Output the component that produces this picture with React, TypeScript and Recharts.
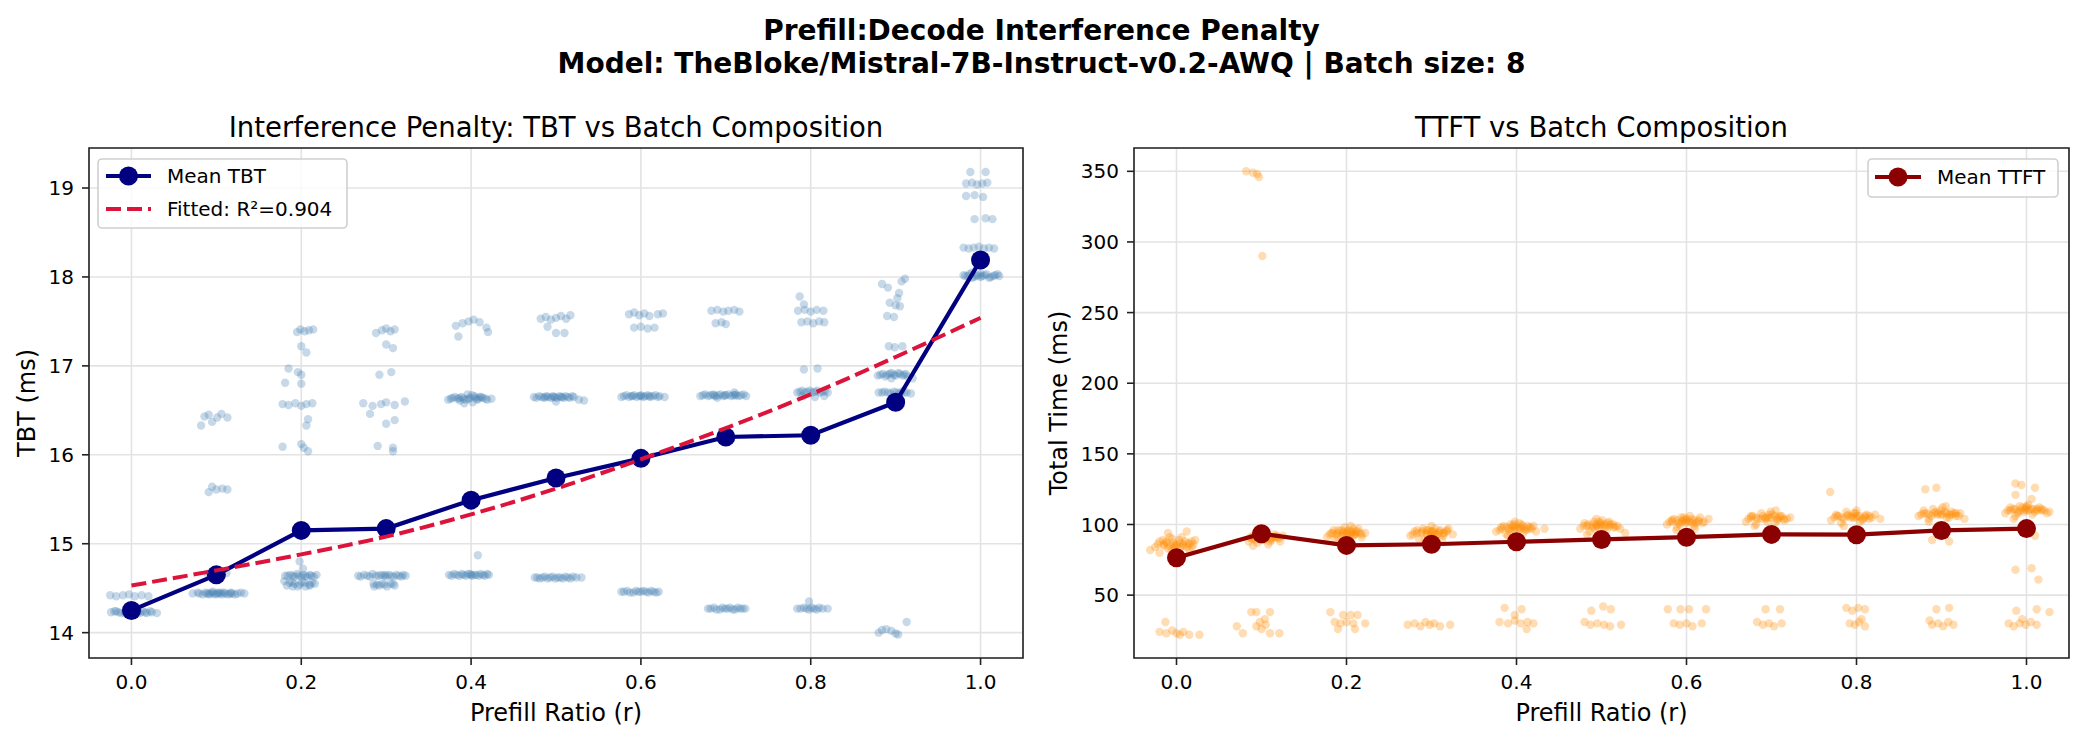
import { ScatterChart, Scatter, XAxis, YAxis, CartesianGrid, ReferenceArea } from "recharts";

// prefill ratio r for the mean / fitted series
const ratios = [0, 0.1, 0.2, 0.3, 0.4, 0.5, 0.6, 0.7, 0.8, 0.9, 1.0];
const meanTbt = [14.25, 14.65, 15.15, 15.17, 15.49, 15.74, 15.96, 16.2, 16.22, 16.59, 18.19];
const fittedTbt = [14.53, 14.7, 14.88, 15.08, 15.33, 15.62, 15.95, 16.3, 16.68, 17.1, 17.54];
const meanTtft = [76.5, 93.5, 85.2, 86.0, 87.8, 89.4, 91.0, 93.0, 92.8, 95.8, 97.1];

const xTicks = [0, 0.2, 0.4, 0.6, 0.8, 1.0];
const tbtTicks = [14, 15, 16, 17, 18, 19];
const ttftTicks = [50, 100, 150, 200, 250, 300, 350];

const X_DOMAIN: [number, number] = [-0.05, 1.05];
const TBT_DOMAIN: [number, number] = [13.715, 19.45];
const TTFT_DOMAIN: [number, number] = [5.5, 366.5];

// jittered per-request TBT samples [r, ms]
const tbtSamples: [number, number][] = [
  // r = 0.0
  [-0.025, 14.42], [-0.018, 14.41], [-0.01, 14.42], [-0.003, 14.43], [0.004, 14.41], [0.012, 14.42], [0.02, 14.41],
  [-0.024, 14.23], [-0.018, 14.24], [-0.012, 14.22], [-0.007, 14.23], [-0.002, 14.24], [0.003, 14.22], [0.008, 14.23],
  [0.013, 14.24], [0.018, 14.22], [0.024, 14.23], [0.03, 14.22], [-0.015, 14.23], [0.0, 14.23], [0.01, 14.22],
  [-0.02, 14.24], [-0.008, 14.22], [0.006, 14.24], [0.016, 14.23], [0.022, 14.24], [-0.004, 14.22],
  // r = 0.1
  [0.082, 16.33], [0.086, 16.43], [0.091, 16.45], [0.095, 16.37], [0.101, 16.42], [0.106, 16.46], [0.113, 16.42],
  [0.091, 15.58], [0.095, 15.64], [0.1, 15.61], [0.107, 15.62], [0.113, 15.61],
  [0.1, 14.69], [0.112, 14.67], [0.09, 14.66],
  [0.072, 14.44], [0.078, 14.45], [0.084, 14.43], [0.089, 14.44], [0.094, 14.45], [0.099, 14.43], [0.104, 14.44],
  [0.109, 14.45], [0.114, 14.43], [0.119, 14.44], [0.125, 14.44], [0.133, 14.44], [0.092, 14.43], [0.102, 14.45],
  [0.08, 14.44], [0.087, 14.45], [0.097, 14.44], [0.107, 14.43], [0.117, 14.45], [0.122, 14.43], [0.129, 14.45],
  [0.096, 14.46], [0.111, 14.44], [0.091, 14.44], [0.101, 14.44], [0.106, 14.45], [0.116, 14.44],
  // r = 0.2
  [0.195, 17.38], [0.199, 17.41], [0.204, 17.39], [0.209, 17.4], [0.214, 17.41],
  [0.2, 17.22], [0.206, 17.15],
  [0.185, 16.97], [0.196, 16.93], [0.2, 16.9], [0.181, 16.81], [0.2, 16.8],
  [0.178, 16.57], [0.185, 16.56], [0.193, 16.58], [0.2, 16.55], [0.206, 16.57], [0.213, 16.58],
  [0.208, 16.4], [0.206, 16.33],
  [0.178, 16.09], [0.2, 16.12], [0.203, 16.08], [0.208, 16.04],
  [0.198, 14.8], [0.202, 14.72],
  [0.181, 14.64], [0.187, 14.65], [0.192, 14.63], [0.197, 14.64], [0.202, 14.65], [0.207, 14.63], [0.212, 14.64], [0.218, 14.65],
  [0.184, 14.64], [0.195, 14.66], [0.205, 14.64], [0.215, 14.63], [0.19, 14.64], [0.2, 14.63], [0.21, 14.65],
  [0.18, 14.58], [0.186, 14.56], [0.192, 14.55], [0.198, 14.54], [0.204, 14.56], [0.21, 14.54], [0.216, 14.55], [0.19, 14.52], [0.205, 14.52],
  [0.189, 14.57], [0.201, 14.57], [0.213, 14.56], [0.183, 14.53], [0.196, 14.52], [0.21, 14.53],
  // r = 0.3
  [0.288, 17.37], [0.295, 17.4], [0.3, 17.42], [0.305, 17.39], [0.31, 17.41],
  [0.3, 17.24], [0.308, 17.2],
  [0.292, 16.9], [0.306, 16.93],
  [0.273, 16.58], [0.284, 16.55], [0.294, 16.57], [0.3, 16.59], [0.31, 16.56], [0.322, 16.6],
  [0.281, 16.46], [0.3, 16.35], [0.31, 16.39],
  [0.29, 16.1], [0.308, 16.08], [0.308, 16.04],
  [0.267, 14.64], [0.274, 14.65], [0.281, 14.63], [0.288, 14.64], [0.294, 14.65], [0.3, 14.63], [0.306, 14.64],
  [0.312, 14.65], [0.318, 14.63], [0.323, 14.64],
  [0.27, 14.63], [0.278, 14.64], [0.284, 14.66], [0.297, 14.64], [0.303, 14.65], [0.315, 14.64], [0.32, 14.65],
  [0.291, 14.64], [0.299, 14.65], [0.309, 14.63],
  [0.285, 14.55], [0.292, 14.53], [0.298, 14.54], [0.305, 14.55], [0.31, 14.53], [0.286, 14.52],
  [0.289, 14.54], [0.301, 14.52], [0.308, 14.55], [0.295, 14.55],
  // r = 0.4
  [0.382, 17.45], [0.39, 17.48], [0.397, 17.5], [0.403, 17.52], [0.41, 17.49], [0.418, 17.43], [0.385, 17.33], [0.42, 17.38],
  [0.373, 16.62], [0.378, 16.64], [0.384, 16.63], [0.389, 16.65], [0.394, 16.62], [0.399, 16.64], [0.404, 16.66],
  [0.409, 16.63], [0.414, 16.64], [0.419, 16.62], [0.424, 16.63], [0.392, 16.58], [0.402, 16.59], [0.396, 16.68],
  [0.376, 16.63], [0.381, 16.65], [0.387, 16.61], [0.397, 16.63], [0.407, 16.62], [0.412, 16.65], [0.417, 16.63], [0.401, 16.67],
  [0.386, 16.64], [0.391, 16.63], [0.405, 16.64], [0.41, 16.65],
  [0.408, 14.87],
  [0.374, 14.65], [0.38, 14.66], [0.386, 14.64], [0.391, 14.65], [0.396, 14.66], [0.401, 14.64], [0.406, 14.65],
  [0.411, 14.66], [0.416, 14.64], [0.421, 14.65], [0.4, 14.65],
  [0.377, 14.64], [0.383, 14.65], [0.389, 14.66], [0.394, 14.64], [0.399, 14.66], [0.404, 14.65], [0.409, 14.64],
  [0.414, 14.65], [0.419, 14.66],
  // r = 0.5
  [0.482, 17.53], [0.488, 17.55], [0.494, 17.52], [0.5, 17.54], [0.506, 17.56], [0.512, 17.53], [0.517, 17.57],
  [0.49, 17.44], [0.5, 17.37], [0.51, 17.37],
  [0.474, 16.65], [0.48, 16.66], [0.486, 16.64], [0.491, 16.65], [0.496, 16.66], [0.501, 16.64], [0.506, 16.65],
  [0.511, 16.66], [0.516, 16.64], [0.521, 16.65], [0.527, 16.62], [0.533, 16.61], [0.5, 16.6],
  [0.477, 16.64], [0.483, 16.65], [0.489, 16.66], [0.494, 16.64], [0.499, 16.65], [0.504, 16.66], [0.509, 16.64],
  [0.514, 16.65], [0.519, 16.66], [0.487, 16.65], [0.497, 16.65], [0.507, 16.65],
  [0.475, 14.62], [0.481, 14.61], [0.487, 14.63], [0.493, 14.62], [0.499, 14.61], [0.505, 14.62], [0.511, 14.63],
  [0.517, 14.61], [0.524, 14.62], [0.53, 14.62],
  [0.478, 14.62], [0.484, 14.62], [0.49, 14.61], [0.496, 14.63], [0.502, 14.62], [0.508, 14.61], [0.514, 14.62], [0.52, 14.63],
  // r = 0.6
  [0.586, 17.58], [0.592, 17.6], [0.598, 17.57], [0.604, 17.59], [0.61, 17.56], [0.62, 17.58], [0.626, 17.59],
  [0.592, 17.43], [0.6, 17.44], [0.608, 17.42], [0.616, 17.43],
  [0.577, 16.65], [0.583, 16.67], [0.589, 16.66], [0.595, 16.65], [0.6, 16.67], [0.605, 16.66], [0.611, 16.65],
  [0.617, 16.67], [0.622, 16.66], [0.628, 16.65],
  [0.58, 16.66], [0.586, 16.65], [0.592, 16.67], [0.598, 16.66], [0.603, 16.65], [0.608, 16.67], [0.614, 16.66], [0.62, 16.65],
  [0.59, 16.66], [0.6, 16.66], [0.61, 16.66],
  [0.577, 14.46], [0.584, 14.47], [0.591, 14.45], [0.597, 14.46], [0.603, 14.47], [0.609, 14.45], [0.615, 14.46], [0.621, 14.46],
  [0.58, 14.46], [0.587, 14.45], [0.594, 14.47], [0.6, 14.46], [0.606, 14.46], [0.612, 14.47], [0.618, 14.45],
  // r = 0.7
  [0.683, 17.62], [0.69, 17.63], [0.697, 17.61], [0.703, 17.62], [0.71, 17.63], [0.716, 17.61],
  [0.688, 17.48], [0.695, 17.49], [0.7, 17.47],
  [0.67, 16.66], [0.676, 16.68], [0.682, 16.67], [0.688, 16.66], [0.694, 16.68], [0.7, 16.67], [0.706, 16.66],
  [0.712, 16.68], [0.718, 16.67], [0.724, 16.66], [0.69, 16.64], [0.71, 16.7],
  [0.673, 16.67], [0.679, 16.66], [0.685, 16.68], [0.691, 16.67], [0.697, 16.66], [0.703, 16.68], [0.709, 16.67],
  [0.715, 16.66], [0.721, 16.68], [0.686, 16.67], [0.699, 16.67], [0.711, 16.67],
  [0.679, 14.27], [0.686, 14.28], [0.693, 14.26], [0.699, 14.27], [0.705, 14.28], [0.711, 14.26], [0.717, 14.27], [0.723, 14.27],
  [0.682, 14.27], [0.689, 14.26], [0.696, 14.28], [0.702, 14.27], [0.708, 14.26], [0.714, 14.28], [0.72, 14.27],
  // r = 0.8
  [0.787, 17.78], [0.792, 17.69], [0.785, 17.62], [0.793, 17.63], [0.8, 17.61], [0.807, 17.63], [0.815, 17.62],
  [0.789, 17.49], [0.796, 17.5], [0.803, 17.48], [0.81, 17.5], [0.816, 17.49],
  [0.792, 16.96], [0.808, 16.97],
  [0.784, 16.7], [0.79, 16.72], [0.796, 16.71], [0.802, 16.7], [0.808, 16.72], [0.814, 16.71], [0.82, 16.7],
  [0.79, 16.66], [0.805, 16.65], [0.816, 16.66],
  [0.787, 16.71], [0.793, 16.7], [0.799, 16.72], [0.805, 16.71], [0.811, 16.7], [0.817, 16.72],
  [0.784, 14.27], [0.792, 14.28], [0.798, 14.26], [0.804, 14.27], [0.81, 14.28], [0.82, 14.27], [0.798, 14.35],
  [0.788, 14.27], [0.795, 14.27], [0.801, 14.28], [0.807, 14.26], [0.814, 14.27],
  // r = 0.9
  [0.884, 17.92], [0.891, 17.88], [0.911, 17.98], [0.907, 17.95], [0.904, 17.82], [0.902, 17.76], [0.893, 17.71],
  [0.9, 17.68], [0.905, 17.67], [0.89, 17.56], [0.898, 17.55],
  [0.892, 17.22], [0.899, 17.21], [0.908, 17.22],
  [0.879, 16.89], [0.885, 16.91], [0.89, 16.9], [0.895, 16.92], [0.9, 16.89], [0.905, 16.91], [0.91, 16.9],
  [0.914, 16.88], [0.92, 16.86], [0.895, 16.86],
  [0.882, 16.9], [0.888, 16.88], [0.893, 16.91], [0.898, 16.9], [0.903, 16.92], [0.908, 16.89], [0.912, 16.91],
  [0.88, 16.7], [0.887, 16.71], [0.894, 16.69], [0.901, 16.7], [0.907, 16.71], [0.913, 16.7], [0.918, 16.69],
  [0.884, 16.7], [0.891, 16.7], [0.898, 16.71], [0.904, 16.69], [0.91, 16.7],
  [0.884, 14.03], [0.889, 14.04], [0.895, 14.02], [0.9, 13.99], [0.903, 13.98], [0.913, 14.12], [0.88, 14.0],
  // r = 1.0
  [0.988, 19.18], [1.006, 19.18], [0.983, 19.05], [0.99, 19.06], [0.996, 19.04], [1.002, 19.05], [1.008, 19.06],
  [0.983, 18.91], [0.993, 18.92], [1.003, 18.9],
  [0.993, 18.65], [1.006, 18.66], [1.014, 18.65],
  [0.98, 18.33], [0.986, 18.32], [0.992, 18.33], [0.998, 18.34], [1.004, 18.32], [1.01, 18.33], [1.016, 18.32],
  [0.982, 18.01], [0.987, 18.03], [0.992, 18.0], [0.997, 18.02], [1.002, 18.01], [1.007, 18.03], [1.012, 18.0],
  [1.017, 18.02], [1.022, 18.01], [0.99, 18.05], [1.0, 18.04], [1.01, 17.99],
  [0.985, 18.01], [0.995, 18.01], [1.005, 18.02], [1.015, 18.01], [0.99, 17.99], [1.0, 18.0], [1.02, 18.03], [0.98, 18.02],
];

// jittered per-request TTFT samples [r, ms]
const ttftSamples: [number, number][] = [
  // r = 0.0
  [-0.031, 82], [-0.025, 84], [-0.02, 88], [-0.02, 80], [-0.015, 85], [-0.01, 83], [-0.01, 94], [-0.008, 91],
  [-0.005, 90], [0, 86], [0, 80], [0.005, 84], [0.01, 88], [0.012, 95], [0.015, 82], [0.02, 86], [0.022, 89],
  [-0.004, 87], [0.006, 91], [-0.016, 89],
  [-0.022, 86], [-0.012, 88], [-0.002, 84], [0.008, 86], [0.018, 84], [-0.006, 82], [0.003, 89], [0.014, 87],
  [-0.015, 86], [-0.008, 85], [0, 85], [0.008, 85], [0.015, 86], [-0.012, 87], [0.004, 87], [0.012, 84], [-0.004, 85], [0.018, 88],
  [-0.02, 24], [-0.012, 23], [-0.005, 25], [0, 23], [0.008, 24], [0.015, 22], [0.027, 22], [-0.013, 31], [0.004, 22],
  // r = 0.1
  [0.085, 88], [0.09, 92], [0.095, 87], [0.1, 95], [0.105, 90], [0.11, 88], [0.115, 93], [0.12, 90], [0.125, 92],
  [0.09, 85], [0.108, 86], [0.098, 97], [0.103, 89], [0.113, 91],
  [0.088, 90], [0.093, 89], [0.097, 92], [0.107, 93], [0.112, 89], [0.118, 92], [0.102, 91], [0.122, 88],
  [0.09, 90], [0.096, 91], [0.101, 90], [0.106, 91], [0.111, 90], [0.116, 91], [0.1, 89], [0.094, 92], [0.12, 91], [0.087, 91],
  [0.082, 350], [0.09, 349], [0.095, 348], [0.097, 346], [0.101, 290],
  [0.088, 38], [0.094, 38], [0.11, 38], [0.104, 33], [0.071, 28], [0.094, 28], [0.105, 29], [0.078, 23],
  [0.11, 23], [0.121, 23], [0.1, 26], [0.098, 31],
  // r = 0.2
  [0.177, 91], [0.182, 94], [0.186, 89], [0.19, 96], [0.194, 92], [0.198, 98], [0.202, 90], [0.206, 95],
  [0.21, 93], [0.214, 97], [0.218, 91], [0.222, 94], [0.195, 88], [0.205, 99], [0.188, 93], [0.2, 95],
  [0.18, 93], [0.185, 96], [0.19, 91], [0.196, 94], [0.203, 96], [0.208, 92], [0.213, 95], [0.218, 93], [0.199, 93], [0.208, 97],
  [0.184, 94], [0.19, 94], [0.196, 95], [0.201, 94], [0.206, 94], [0.211, 95], [0.216, 94], [0.194, 96], [0.204, 93], [0.21, 93],
  [0.181, 38], [0.196, 36], [0.205, 36], [0.213, 36], [0.186, 31], [0.193, 30], [0.2, 31], [0.208, 30],
  [0.222, 30], [0.19, 26], [0.21, 26],
  // r = 0.3
  [0.275, 92], [0.28, 95], [0.285, 90], [0.29, 97], [0.295, 93], [0.3, 99], [0.305, 91], [0.31, 96], [0.315, 94],
  [0.32, 97], [0.325, 93], [0.292, 89], [0.302, 95], [0.312, 89],
  [0.278, 93], [0.283, 96], [0.288, 94], [0.294, 96], [0.299, 93], [0.304, 97], [0.309, 94], [0.314, 92], [0.318, 95], [0.3, 95],
  [0.283, 94], [0.289, 95], [0.294, 94], [0.299, 95], [0.304, 94], [0.309, 95], [0.314, 94], [0.296, 96], [0.306, 93], [0.318, 96],
  [0.272, 29], [0.28, 30], [0.287, 28], [0.293, 31], [0.298, 29], [0.303, 30], [0.31, 28], [0.322, 29],
  // r = 0.4
  [0.376, 95], [0.382, 98], [0.388, 93], [0.393, 100], [0.398, 96], [0.403, 101], [0.408, 94], [0.413, 99],
  [0.418, 97], [0.423, 95], [0.433, 97], [0.39, 92], [0.405, 97], [0.398, 102],
  [0.38, 96], [0.385, 99], [0.391, 97], [0.396, 99], [0.401, 97], [0.406, 100], [0.411, 96], [0.416, 98], [0.42, 99],
  [0.383, 97], [0.389, 98], [0.394, 97], [0.399, 98], [0.404, 98], [0.409, 97], [0.414, 97], [0.397, 100], [0.407, 99], [0.392, 95],
  [0.386, 41], [0.406, 40], [0.398, 36], [0.38, 31], [0.39, 30], [0.398, 32], [0.405, 30], [0.413, 31], [0.42, 30], [0.412, 26],
  // r = 0.5
  [0.475, 97], [0.48, 101], [0.486, 95], [0.491, 102], [0.496, 98], [0.501, 103], [0.506, 96], [0.511, 100],
  [0.516, 98], [0.522, 97], [0.528, 94], [0.483, 93], [0.5, 99], [0.494, 104],
  [0.479, 99], [0.484, 100], [0.489, 98], [0.494, 100], [0.499, 101], [0.504, 98], [0.509, 102], [0.514, 100], [0.519, 99],
  [0.483, 99], [0.489, 100], [0.494, 99], [0.499, 100], [0.504, 100], [0.509, 99], [0.514, 98], [0.497, 102], [0.507, 101], [0.492, 97],
  [0.488, 39], [0.502, 42], [0.511, 40], [0.48, 31], [0.487, 29], [0.495, 30], [0.503, 29], [0.51, 28], [0.523, 29],
  // r = 0.6
  [0.577, 100], [0.583, 103], [0.589, 98], [0.594, 105], [0.599, 101], [0.604, 106], [0.609, 99], [0.614, 103],
  [0.619, 101], [0.626, 104], [0.588, 96], [0.61, 97], [0.6, 104],
  [0.58, 102], [0.585, 104], [0.591, 101], [0.596, 103], [0.601, 102], [0.606, 104], [0.611, 101], [0.616, 105], [0.621, 102],
  [0.583, 102], [0.589, 103], [0.594, 102], [0.599, 103], [0.604, 102], [0.609, 103], [0.614, 102], [0.597, 105], [0.607, 101], [0.592, 100],
  [0.578, 40], [0.593, 40], [0.603, 40], [0.623, 40], [0.585, 30], [0.592, 29], [0.6, 30], [0.607, 28], [0.618, 30],
  // r = 0.7
  [0.67, 102], [0.676, 106], [0.682, 100], [0.688, 108], [0.693, 104], [0.699, 109], [0.704, 101], [0.71, 106],
  [0.715, 103], [0.722, 105], [0.68, 99], [0.705, 110], [0.695, 102],
  [0.673, 104], [0.678, 106], [0.684, 104], [0.69, 106], [0.696, 105], [0.701, 107], [0.707, 104], [0.712, 106], [0.718, 104],
  [0.676, 105], [0.682, 105], [0.688, 104], [0.693, 105], [0.699, 105], [0.704, 106], [0.709, 105], [0.714, 104], [0.697, 107], [0.707, 103],
  [0.693, 40], [0.71, 40], [0.683, 31], [0.69, 29], [0.697, 30], [0.703, 28], [0.712, 30],
  // r = 0.8
  [0.77, 103], [0.776, 107], [0.782, 101], [0.788, 109], [0.793, 105], [0.799, 108], [0.804, 102], [0.81, 106],
  [0.815, 104], [0.822, 107], [0.828, 104], [0.785, 99], [0.8, 110], [0.769, 123],
  [0.774, 105], [0.779, 106], [0.785, 104], [0.79, 107], [0.796, 105], [0.801, 106], [0.807, 104], [0.812, 107], [0.818, 105],
  [0.777, 106], [0.783, 105], [0.789, 106], [0.794, 106], [0.799, 105], [0.804, 106], [0.81, 105], [0.815, 106], [0.797, 108], [0.807, 103],
  [0.788, 41], [0.795, 39], [0.802, 41], [0.81, 40], [0.792, 30], [0.798, 29], [0.803, 31], [0.81, 28], [0.806, 33],
  // r = 0.9
  [0.873, 106], [0.879, 110], [0.885, 104], [0.89, 111], [0.895, 107], [0.901, 112], [0.906, 105], [0.912, 109],
  [0.917, 106], [0.922, 108], [0.927, 104], [0.885, 102], [0.905, 113], [0.881, 125], [0.894, 126], [0.889, 89], [0.909, 88],
  [0.876, 107], [0.882, 108], [0.888, 106], [0.893, 109], [0.899, 107], [0.904, 109], [0.909, 107], [0.915, 108], [0.92, 106],
  [0.879, 108], [0.885, 107], [0.891, 108], [0.896, 108], [0.901, 107], [0.906, 108], [0.912, 107], [0.917, 108], [0.899, 110], [0.909, 105],
  [0.894, 40], [0.909, 41], [0.886, 32], [0.889, 29], [0.896, 30], [0.902, 28], [0.908, 31], [0.914, 29],
  // r = 1.0
  [0.975, 108], [0.981, 112], [0.987, 106], [0.992, 113], [0.997, 109], [1.002, 114], [1.007, 107], [1.012, 111],
  [1.018, 110], [1.024, 108], [0.985, 104], [1.0, 112], [1.027, 109],
  [0.978, 110], [0.984, 111], [0.99, 109], [0.995, 112], [1.0, 110], [1.005, 111], [1.01, 109], [1.015, 112], [1.021, 110],
  [0.981, 110], [0.987, 111], [0.993, 110], [0.998, 111], [1.003, 110], [1.008, 111], [1.013, 110], [1.018, 111], [1.0, 113], [0.99, 108],
  [0.987, 129], [0.994, 128], [1.01, 126], [0.987, 121], [1.006, 118], [1.01, 92], [0.987, 68], [1.006, 69], [1.014, 61],
  [0.988, 39], [1.012, 40], [1.027, 38], [0.979, 30], [0.985, 28], [0.992, 30], [0.999, 29], [1.005, 31], [1.012, 29], [0.995, 33],
];

const FONT = "DejaVu Sans";
const SPINE = "#222";
const GRID = "#e3e3e3";

const toPoints = (pairs: [number, number][]) => pairs.map(([x, y]) => ({ x, y }));
const series = (ys: number[]) => ratios.map((x, i) => ({ x, y: ys[i] }));

const dot = (fill: string, r: number, opacity: number) => (p: any) =>
  <circle cx={p.cx} cy={p.cy} r={r} fill={fill} fillOpacity={opacity} />;
const noDot = () => <g />;

interface PanelProps {
  left: number;
  width: number;
  marginRight: number;
  yAxisWidth: number;
  yDomain: [number, number];
  yTicks: number[];
  samples: [number, number][];
  sampleColor: string;
  mean: number[];
  meanColor: string;
  fitted?: number[];
}

function Panel(props: PanelProps) {
  const { left, width, marginRight, yAxisWidth, yDomain, yTicks, samples, sampleColor, mean, meanColor, fitted } = props;
  const tickStyle = { fill: "#000", fontSize: 20, fontFamily: FONT };
  return (
    <div style={{ position: "absolute", left, top: 0 }}>
      <ScatterChart width={width} height={742} margin={{ top: 148, right: marginRight, bottom: 0, left: 0 }}>
        <CartesianGrid stroke={GRID} strokeWidth={1.6} />
        <XAxis
          type="number"
          dataKey="x"
          domain={X_DOMAIN}
          ticks={xTicks}
          allowDataOverflow
          height={84}
          axisLine={false}
          tickLine={{ stroke: SPINE, strokeWidth: 1.6 }}
          tickSize={7}
          tickMargin={10}
          tick={tickStyle}
          tickFormatter={(v: number) => v.toFixed(1)}
        />
        <YAxis
          type="number"
          dataKey="y"
          domain={yDomain}
          ticks={yTicks}
          allowDataOverflow
          width={yAxisWidth}
          axisLine={false}
          tickLine={{ stroke: SPINE, strokeWidth: 1.6 }}
          tickSize={7}
          tickMargin={8}
          tick={tickStyle}
        />
        <Scatter data={toPoints(samples)} shape={dot(sampleColor, 4.2, 0.3)} isAnimationActive={false} />
        <Scatter
          data={series(mean)}
          line={{ stroke: meanColor, strokeWidth: 4.2 }}
          shape={dot(meanColor, 9.5, 1)}
          isAnimationActive={false}
        />
        {fitted && (
          <Scatter
            data={series(fitted)}
            line={{ stroke: "#DC143C", strokeWidth: 4, strokeDasharray: "15 6" }}
            lineJointType="monotone"
            shape={noDot}
            isAnimationActive={false}
          />
        )}
        <ReferenceArea
          x1={X_DOMAIN[0]}
          x2={X_DOMAIN[1]}
          y1={yDomain[0]}
          y2={yDomain[1]}
          fill="none"
          stroke={SPINE}
          strokeWidth={1.6}
          ifOverflow="visible"
        />
      </ScatterChart>
    </div>
  );
}

export default function App() {
  return (
    <div style={{ position: "absolute", left: 0, top: 0, width: 2083, height: 742, background: "#fff", overflow: "hidden" }}>
      <Panel
        left={0}
        width={1040}
        marginRight={17}
        yAxisWidth={89}
        yDomain={TBT_DOMAIN}
        yTicks={tbtTicks}
        samples={tbtSamples}
        sampleColor="#4682B4"
        mean={meanTbt}
        meanColor="#000080"
        fitted={fittedTbt}
      />
      <Panel
        left={1040}
        width={1043}
        marginRight={14}
        yAxisWidth={94}
        yDomain={TTFT_DOMAIN}
        yTicks={ttftTicks}
        samples={ttftSamples}
        sampleColor="#FF8C00"
        mean={meanTtft}
        meanColor="#8B0000"
      />
      <svg width={2083} height={742} style={{ position: "absolute", left: 0, top: 0, pointerEvents: "none" }} fontFamily={FONT}>
        <text x={1041.5} y={30} textAnchor="middle" dominantBaseline="central" fontSize={28} fontWeight="bold">
          Prefill:Decode Interference Penalty
        </text>
        <text x={1041.5} y={63} textAnchor="middle" dominantBaseline="central" fontSize={28} fontWeight="bold">
          Model: TheBloke/Mistral-7B-Instruct-v0.2-AWQ | Batch size: 8
        </text>
        <text x={556} y={127} textAnchor="middle" dominantBaseline="central" fontSize={27.5}>
          Interference Penalty: TBT vs Batch Composition
        </text>
        <text x={1601.5} y={127} textAnchor="middle" dominantBaseline="central" fontSize={27.5}>
          TTFT vs Batch Composition
        </text>
        <text x={556} y={713} textAnchor="middle" dominantBaseline="central" fontSize={24}>
          Prefill Ratio (r)
        </text>
        <text x={1601.5} y={713} textAnchor="middle" dominantBaseline="central" fontSize={24}>
          Prefill Ratio (r)
        </text>
        <text x={27} y={403} textAnchor="middle" dominantBaseline="central" fontSize={24} transform="rotate(-90 27 403)">
          TBT (ms)
        </text>
        <text x={1058.5} y={403} textAnchor="middle" dominantBaseline="central" fontSize={24} transform="rotate(-90 1058.5 403)">
          Total Time (ms)
        </text>

        {/* left legend */}
        <rect x={98} y={159} width={249} height={69} rx={4} fill="#fff" fillOpacity={0.8} stroke="#d0d0d0" strokeWidth={1.6} />
        <line x1={106} x2={151} y1={176} y2={176} stroke="#000080" strokeWidth={4.2} />
        <circle cx={128.5} cy={176} r={9.5} fill="#000080" />
        <text x={167} y={176} dominantBaseline="central" fontSize={20}>Mean TBT</text>
        <line x1={106} x2={151} y1={209} y2={209} stroke="#DC143C" strokeWidth={4} strokeDasharray="15 6" />
        <text x={167} y={209} dominantBaseline="central" fontSize={20}>Fitted: R²=0.904</text>

        {/* right legend */}
        <rect x={1868} y={159} width={190} height={38} rx={4} fill="#fff" fillOpacity={0.8} stroke="#d0d0d0" strokeWidth={1.6} />
        <line x1={1875} x2={1921} y1={177} y2={177} stroke="#8B0000" strokeWidth={4.2} />
        <circle cx={1898} cy={177} r={9.5} fill="#8B0000" />
        <text x={1937} y={177} dominantBaseline="central" fontSize={20}>Mean TTFT</text>
      </svg>
    </div>
  );
}
